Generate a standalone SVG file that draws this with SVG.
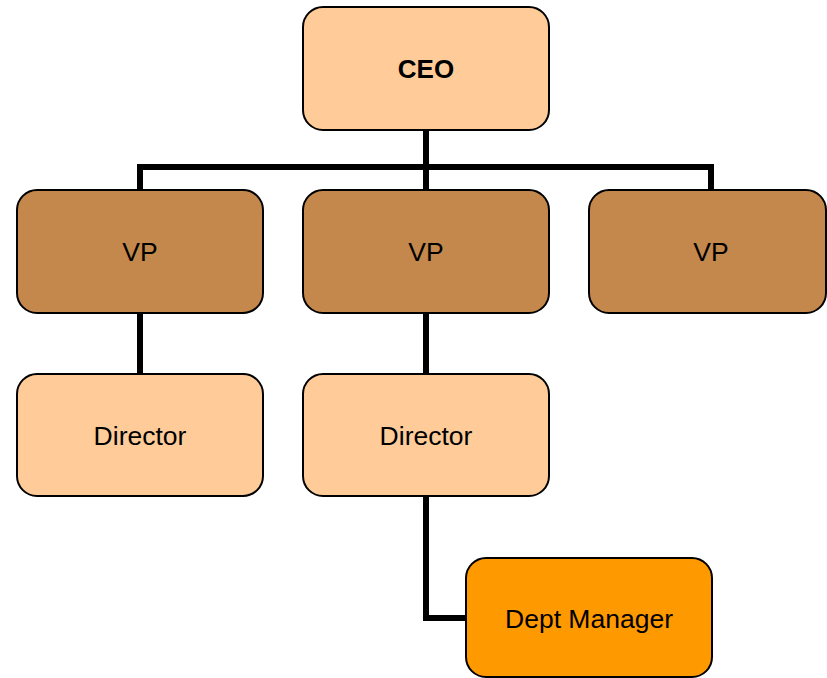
<svg xmlns="http://www.w3.org/2000/svg" width="827" height="678" viewBox="0 0 827 678">
<style>
.box{stroke:#000;stroke-width:2}
.light{fill:#FFCC99}
.vp{fill:#C4884C}
.mgr{fill:#FF9900}
.lbl{font-family:"Liberation Sans",Arial,sans-serif;font-size:26.5px;fill:#000;text-anchor:middle}
.bold{font-weight:bold;font-size:26px}
.conn{fill:none;stroke:#000;stroke-width:6;stroke-linejoin:miter;stroke-linecap:butt}
</style>
<rect width="827" height="678" fill="#fff"/>
<g id="connectors">
<path class="conn" d="M426,130 V190"/>
<path class="conn" d="M140,190 V167 H711 V190"/>
<path class="conn" d="M140,313 V374"/>
<path class="conn" d="M426,313 V374"/>
<path class="conn" d="M426,496 V618 H466"/>
</g>
<g id="ceo">
<rect class="box light" x="303" y="7" width="246" height="123" rx="20" ry="20"/>
<text class="lbl bold" x="426" y="78">CEO</text>
</g>
<g id="vp1">
<rect class="box vp" x="17" y="190" width="246" height="123" rx="20" ry="20"/>
<text class="lbl" x="140" y="261">VP</text>
</g>
<g id="vp2">
<rect class="box vp" x="303" y="190" width="246" height="123" rx="20" ry="20"/>
<text class="lbl" x="426" y="261">VP</text>
</g>
<g id="vp3">
<rect class="box vp" x="589" y="190" width="237" height="123" rx="20" ry="20"/>
<text class="lbl" x="711" y="261">VP</text>
</g>
<g id="director1">
<rect class="box light" x="17" y="374" width="246" height="122" rx="20" ry="20"/>
<text class="lbl" x="140" y="445">Director</text>
</g>
<g id="director2">
<rect class="box light" x="303" y="374" width="246" height="122" rx="20" ry="20"/>
<text class="lbl" x="426" y="445">Director</text>
</g>
<g id="deptmanager">
<rect class="box mgr" x="466" y="558" width="246" height="119" rx="20" ry="20"/>
<text class="lbl" x="589" y="628">Dept Manager</text>
</g>
</svg>
